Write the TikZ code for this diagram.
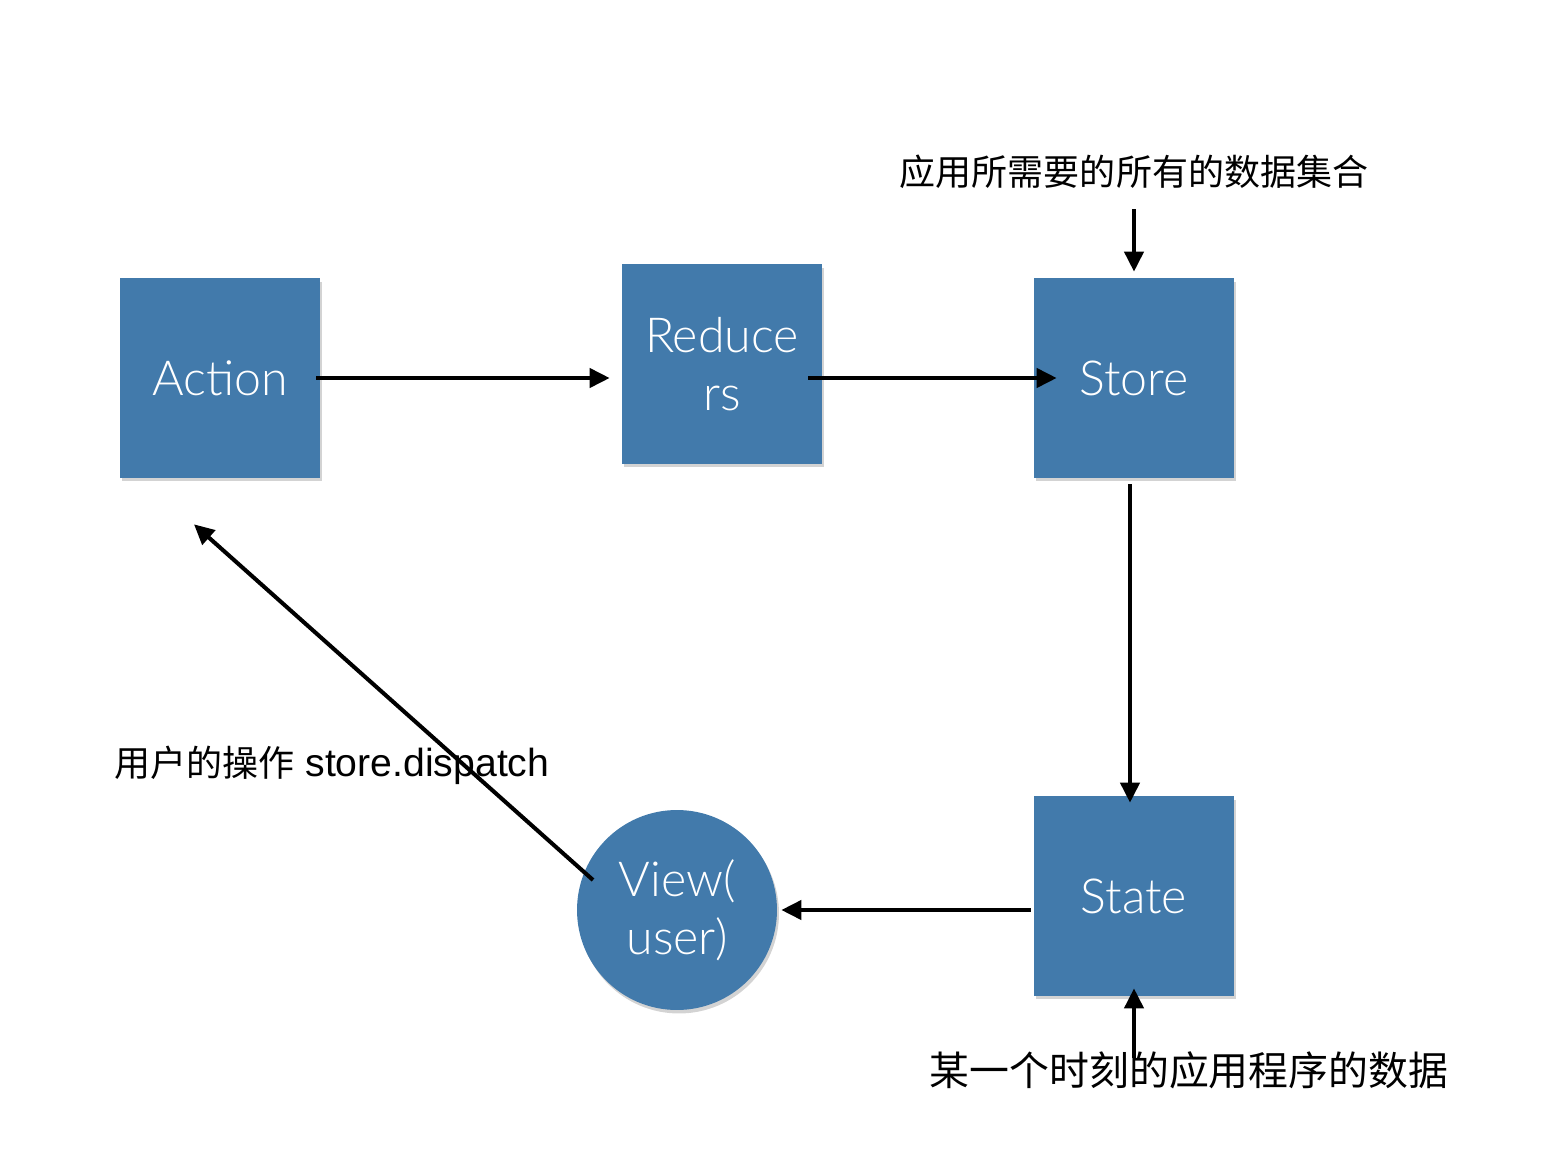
\documentclass[tikz,border=0pt]{standalone}
\usepackage{fontspec}
\setmainfont{Liberation Sans}
\newfontfamily\cjk{Noto Sans CJK SC}
\newfontfamily\thin{Lato Light}
\usepackage{tikz}
\usetikzlibrary{calc,arrows.meta,shadows}
\definecolor{boxblue}{RGB}{66,122,171}
\tikzset{
  block/.style={rectangle, fill=boxblue, minimum size=4cm, inner sep=0pt,
    text=white, align=center, font=\thin\fontsize{27.5}{33}\selectfont,
    drop shadow={opacity=0.35, shadow xshift=0.04cm, shadow yshift=-0.07cm}},
  viewdot/.style={block, circle},
  note/.style={font=\cjk\fontsize{20.5}{24}\selectfont, inner sep=0pt},
  arr/.style={line width=2.3pt, -{Triangle[length=0.4cm,width=0.38cm]}}
}

\begin{document}
\begin{tikzpicture}[x=0.02cm,y=-0.02cm]
				\useasboundingbox (0,0) rectangle (1548,1176);
				
				\node[block] (action) at (220,378) {Action};
				\node[block] (reducers) at (722,364) {Reduce\\rs};
				\node[block] (store) at (1134,378) {Store};
				\node[block] (state) at (1134,896) {State};
				\node[viewdot] (view) at (677,910) {View(\\user)};
				
				\node[note] (need) at (1134,172) {应用所需要的所有的数据集合};
				\node[note, font=\cjk\fontsize{22.7}{26}\selectfont] (moment) at (1189,1070) {某一个时刻的应用程序的数据};
				\node[note, anchor=west] (dispatch) at (114,765) {用户的操作\hspace{0.22cm}{\fontspec{Liberation Sans}\fontsize{22.3}{26}\selectfont store.dispatch}};
				
				\draw[arr] ($(action.east)+(-4,0)$) -- ($(action.east -| reducers.west)+(-12,0)$);
				\draw[arr] ($(reducers.east |- store.west)+(-14,0)$) -- ($(store.west)+(23,0)$);
				\draw[arr] ($(store.south)+(-4,6)$) -- ($(state.north)+(-4,7)$);
				\draw[arr] ($(view.east -| state.west)+(-3,0)$) -- ($(view.east)+(4,0)$);
				\draw[arr] ($(view)+(-84,-30)$) -- ($(action.south)+(-26,46)$);
				
				\draw[arr] ($(need)+(0,37)$) -- ($(store.north)+(0,-6)$);
				\draw[arr] ($(moment -| state.south)+(0,-12)$) -- ($(state.south)+(0,-8)$);
\end{tikzpicture}
\end{document}
